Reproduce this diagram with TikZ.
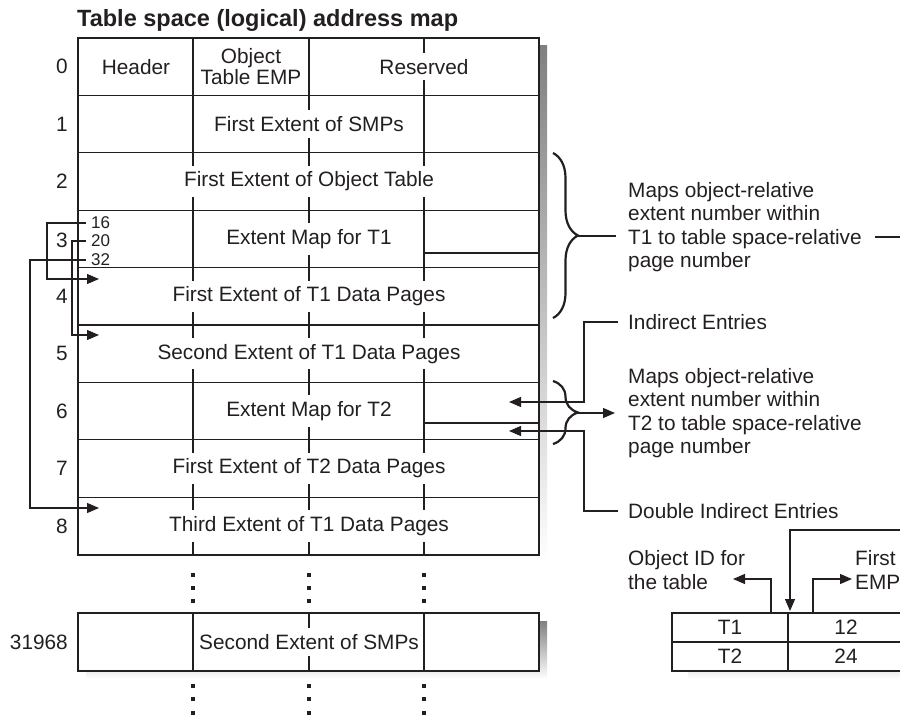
\documentclass[tikz,border=0pt]{standalone}
\usepackage{fontspec}
\setmainfont{Liberation Sans}
\usetikzlibrary{arrows.meta,decorations.pathreplacing}
\definecolor{ink}{HTML}{231F20}
\definecolor{shade}{HTML}{A7A9AC}

\begin{document}
\begin{tikzpicture}[x=1pt,y=-1pt,
    every node/.style={text=ink, font={\fontsize{20.8}{23.3}\selectfont}},
    cell/.style={fill=white, inner xsep=1pt, inner ysep=6pt},
    rowno/.style={anchor=east, inner sep=1pt},
    offs/.style={anchor=west, inner sep=1pt, font={\fontsize{17}{19}\selectfont}},
    note/.style={anchor=west, align=left, inner xsep=10pt, inner ysep=2pt},
    wire/.style={draw=ink, line width=1.2pt},
    ptr/.style={wire, -{Triangle[length=12pt,width=10pt]}},
    curly/.style={draw=ink, line width=2.2pt, decorate,
        decoration={brace, amplitude=25pt}}]
    \useasboundingbox (0,0) rectangle (900,717);
    \clip (0,0) rectangle (900,717);

    \node[anchor=base west, inner sep=0pt,
        font={\fontsize{23.5}{26}\selectfont\bfseries}] (title) at (77,27)
        {Table space (logical) address map};

    % shadows
    \fill[shade] (86,46) rectangle (547,563);
    \fill[shade] (86,621) rectangle (547,679);
    \fill[shade] (688,621) rectangle (912,679);

    % address map, pages 0 to 8
    \draw[wire, fill=white] (78,38) rectangle (539,555);
    \foreach \k in {1,...,8}
        \draw[wire] (78,{38+57.4*\k}) -- (539,{38+57.4*\k});
    \foreach \x in {193,309,424}
        \draw[wire] (\x,38) -- (\x,555);
    \draw[wire] (424,253) -- (539,253);
    \draw[wire] (424,423) -- (539,423);

    \node[rowno] (n0) at (69,66.7) {0};
    \node[rowno] (n1) at (69,124.1) {1};
    \node[rowno] (n2) at (69,181.5) {2};
    \node[rowno] (n3) at (69,240) {3};
    \node[rowno] (n4) at (69,296.3) {4};
    \node[rowno] (n5) at (69,353.7) {5};
    \node[rowno] (n6) at (69,411.1) {6};
    \node[rowno] (n7) at (69,468.5) {7};
    \node[rowno] (n8) at (69,525.9) {8};

    \node[cell] (hdr) at (136,66.7) {Header};
    \node[cell, align=center, font={\fontsize{20.8}{21}\selectfont}] (ote) at (251,66.7) {Object\\Table EMP};
    \node[cell] (rsv) at (424,66.7) {Reserved};
    \node[cell] (smp1) at (309,124.1) {First Extent of SMPs};
    \node[cell] (otab) at (309,181.5) {First Extent of Object Table};
    \node[cell] (emap1) at (309,238.9) {Extent Map for T1};
    \node[cell] (t1a) at (309,296.3) {First Extent of T1 Data Pages};
    \node[cell] (t1b) at (309,353.7) {Second Extent of T1 Data Pages};
    \node[cell] (emap2) at (309,411.1) {Extent Map for T2};
    \node[cell] (t2a) at (309,468.5) {First Extent of T2 Data Pages};
    \node[cell] (t1c) at (309,525.9) {Third Extent of T1 Data Pages};

    % extent map entries of T1
    \node[offs] (p16) at (90,223) {16};
    \node[offs] (p20) at (90,241) {20};
    \node[offs] (p32) at (90,260) {32};
    \coordinate (in4) at (99,279);
    \coordinate (in5) at (99,335);
    \coordinate (in8) at (99,508);
    \draw[ptr] ([xshift=-4pt]p16.west) -- (47,223) |- (in4);
    \draw[ptr] ([xshift=-4pt]p20.west) -- (72,241) |- (in5);
    \draw[ptr] ([xshift=-4pt]p32.west) -- (30,260) |- (in8);

    % more pages
    \foreach \x in {193,309,424}
        \foreach \y in {575,588,601,686,699,713}
            \fill[ink] (\x-1.8,\y-1.8) rectangle ++(3.6,3.6);

    \draw[wire, fill=white] (78,613) rectangle (539,671);
    \foreach \x in {193,309,424}
        \draw[wire] (\x,613) -- (\x,671);
    \node[rowno] (n31968) at (69,642) {31968};
    \node[cell] (smp2) at (309,642) {Second Extent of SMPs};

    % braces and notes
    \draw[curly] (553,153) -- (553,318);
    \draw[curly] (553,381) -- (553,444);
    \coordinate (bA) at (578,236);
    \coordinate (bB) at (577,413);

    \node[note] (mapA) at (618,227) {Maps object-relative\\extent number within\\T1 to table space-relative\\page number};
    \draw[wire] (bA) -- (616,236);
    \coordinate (mA) at (875,237);
    \coordinate (fst) at (790,611);
    \draw[ptr] (mA) -- (915,237) -- (915,530) -| (fst);

    \node[note] (ind) at (618,322) {Indirect Entries};
    \node[note] (mapB) at (618,413) {Maps object-relative\\extent number within\\T2 to table space-relative\\page number};
    \node[note] (dind) at (618,511) {Double Indirect Entries};
    \coordinate (ia) at (509,402);
    \coordinate (da) at (509,431);
    \draw[ptr] (ind.west) -- (584,322) |- (ia);
    \draw[ptr] (dind.west) -- (584,511) |- (da);
    \draw[ptr] (bB) -- (615,413);

    % object table
    \draw[wire, fill=white] (672,613) rectangle (904,671);
    \draw[wire] (672,642) -- (904,642);
    \draw[wire] (788,613) -- (788,671);
    \node (ot1) at (730,627.5) {T1};
    \node (oe1) at (846,627.5) {12};
    \node (ot2) at (730,656.5) {T2};
    \node (oe2) at (846,656.5) {24};

    \node[note] (oid) at (618,570) {Object ID for\\the table};
    \node[anchor=west, align=left, inner sep=1pt] (femp) at (854,570) {First\\EMP};
    \coordinate (c1) at (771,613);
    \coordinate (c2) at (813,613);
    \draw[ptr] (c1) |- (733,579);
    \draw[ptr] (c2) |- (852,579);
\end{tikzpicture}
\end{document}
